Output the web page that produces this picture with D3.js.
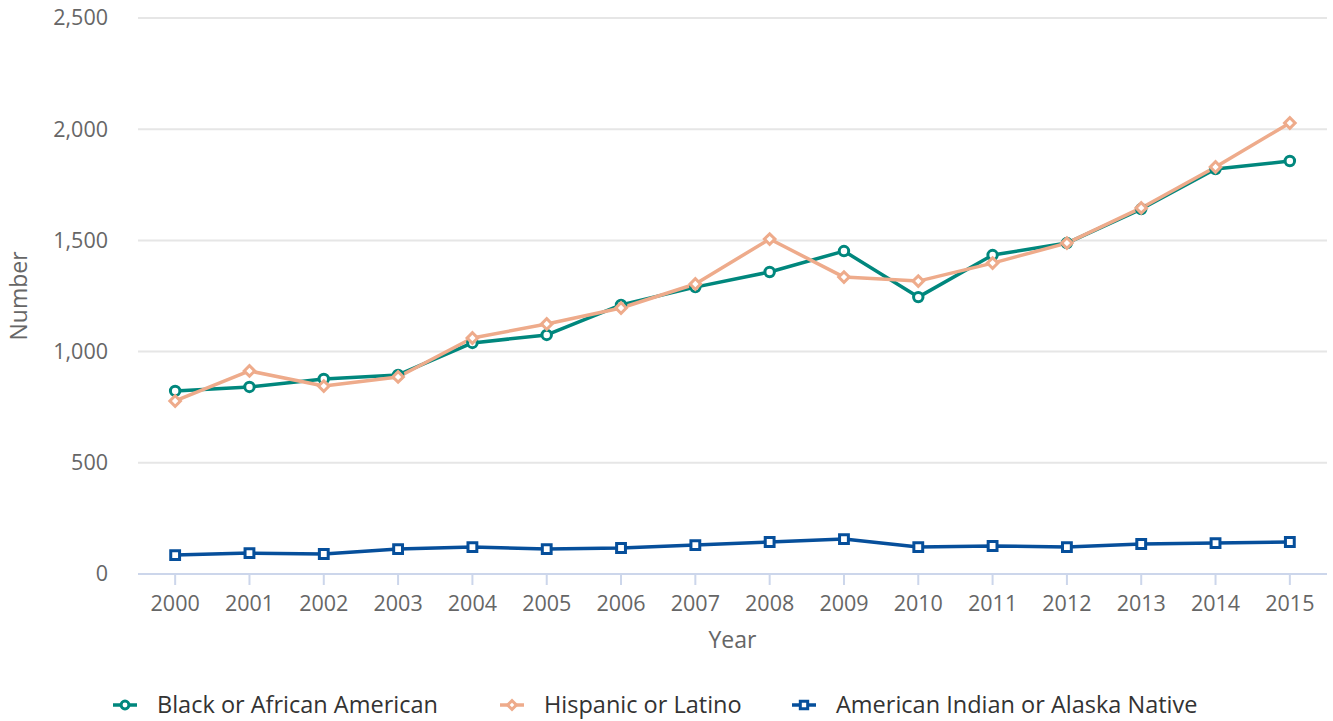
<!DOCTYPE html>
<html>
<head>
<meta charset="utf-8">
<script src="https://cdn.jsdelivr.net/npm/d3@7"></script>
<style>
body { margin: 0; background: #fff; }
text { font-family: "Open Sans", sans-serif; }
</style>
</head>
<body>
<svg id="chart" width="1333" height="721"></svg>
<script>
const years = ["2000","2001","2002","2003","2004","2005","2006","2007","2008","2009","2010","2011","2012","2013","2014","2015"];
const black = [823, 841, 877, 895, 1039, 1075, 1210, 1290, 1358, 1452, 1245, 1434, 1488, 1641, 1821, 1857];
const hispanic = [778, 913, 845, 886, 1061, 1124, 1196, 1304, 1506, 1335, 1317, 1398, 1488, 1646, 1830, 2028];
const aian = [85, 94, 90, 112, 121, 112, 117, 130, 144, 157, 121, 126, 121, 135, 139, 144];
const yTicks = [0, 500, 1000, 1500, 2000, 2500];

const series = [
	{ name: "Black or African American", values: black, color: "#00877d", symbol: "circle" },
	{ name: "Hispanic or Latino", values: hispanic, color: "#eeab8b", symbol: "diamond" },
	{ name: "American Indian or Alaska Native", values: aian, color: "#064f9b", symbol: "square" },
];

const svg = d3.select("svg#chart");
const margin = { top: 18, right: 6, bottom: 147, left: 138 };
const width = +svg.attr("width");
const height = +svg.attr("height");
const chartWidth = width - margin.left - margin.right;
const chartHeight = height - margin.top - margin.bottom;

const chartArea = svg.append("g")
	.attr("transform", `translate(${margin.left},${margin.top})`);

const xScale = d3.scaleBand(years, [0, chartWidth]);
const yScale = d3.scaleLinear([0, 2500], [chartHeight, 0]);
const xPos = (i) => xScale(years[i]) + xScale.bandwidth() / 2;

// grid
chartArea.append("g")
	.selectAll("line")
	.data(yTicks.slice(1))
	.join("line")
	.attr("x1", 0)
	.attr("x2", chartWidth)
	.attr("y1", (d) => yScale(d))
	.attr("y2", (d) => yScale(d))
	.attr("stroke", "#e6e6e6")
	.attr("stroke-width", 2);

// y axis labels
const yAxis = d3.axisLeft(yScale).tickValues(yTicks).tickFormat(d3.format(",")).tickSize(0).tickPadding(30);
chartArea.append("g").call(yAxis)
	.call((g) => g.select(".domain").remove())
	.call((g) => g.selectAll("text").attr("fill", "#666").style("font-size", "21.5px").attr("dy", "0.32em"));

// x axis
const xAxis = d3.axisBottom(xScale).tickSize(11).tickPadding(11);
chartArea.append("g")
	.attr("transform", `translate(0,${chartHeight})`)
	.call(xAxis)
	.call((g) => g.select(".domain").attr("stroke", "#ccd6eb").attr("stroke-width", 2).attr("d", `M0,0H${chartWidth}`))
	.call((g) => g.selectAll(".tick line").attr("stroke", "#ccd6eb").attr("stroke-width", 2))
	.call((g) => g.selectAll("text").attr("fill", "#666").style("font-size", "21.5px"));

// axis titles
svg.append("text")
	.attr("transform", `translate(27,${margin.top + chartHeight / 2}) rotate(-90)`)
	.attr("text-anchor", "middle")
	.attr("fill", "#666")
	.style("font-size", "23px")
	.text("Number");
svg.append("text")
	.attr("x", margin.left + chartWidth / 2)
	.attr("y", 648)
	.attr("text-anchor", "middle")
	.attr("fill", "#666")
	.style("font-size", "23px")
	.text("Year");

const symbolSize = { circle: 70, diamond: 56, square: 78 };
const symbolType = { circle: d3.symbolCircle, diamond: d3.symbolSquare, square: d3.symbolSquare };
const symbolRot = { circle: 0, diamond: 45, square: 0 };
const line = d3.line().x((d, i) => xPos(i)).y((d) => yScale(d));

series.forEach((s) => {
	chartArea.append("path")
		.datum(s.values)
		.attr("fill", "none")
		.attr("stroke", s.color)
		.attr("stroke-width", 3.5)
		.attr("stroke-linejoin", "round")
		.attr("d", line);
});

series.forEach((s) => {
	chartArea.selectAll(null)
		.data(s.values)
		.join("path")
		.attr("transform", (d, i) => `translate(${xPos(i)},${yScale(d)}) rotate(${symbolRot[s.symbol]})`)
		.attr("d", d3.symbol(symbolType[s.symbol], symbolSize[s.symbol]))
		.attr("fill", "#fff")
		.attr("stroke", s.color)
		.attr("stroke-width", 3);
});

// legend
const legendX = [113, 500, 792];
const legend = svg.append("g").attr("transform", "translate(0,705)");
series.forEach((s, k) => {
	const g = legend.append("g").attr("transform", `translate(${legendX[k]},0)`);
	g.append("line").attr("x1", 0).attr("x2", 24).attr("y1", 0).attr("y2", 0)
		.attr("stroke", s.color).attr("stroke-width", 3.5);
	g.append("path").attr("transform", `translate(12,0) rotate(${symbolRot[s.symbol]})`)
		.attr("d", d3.symbol(symbolType[s.symbol], symbolSize[s.symbol] * 0.7))
		.attr("fill", "#fff").attr("stroke", s.color).attr("stroke-width", 3);
	g.append("text").attr("x", 44).attr("y", 0).attr("dy", "0.35em")
		.attr("fill", "#333").style("font-size", "23.5px").text(s.name);
});
</script>
</body>
</html>
